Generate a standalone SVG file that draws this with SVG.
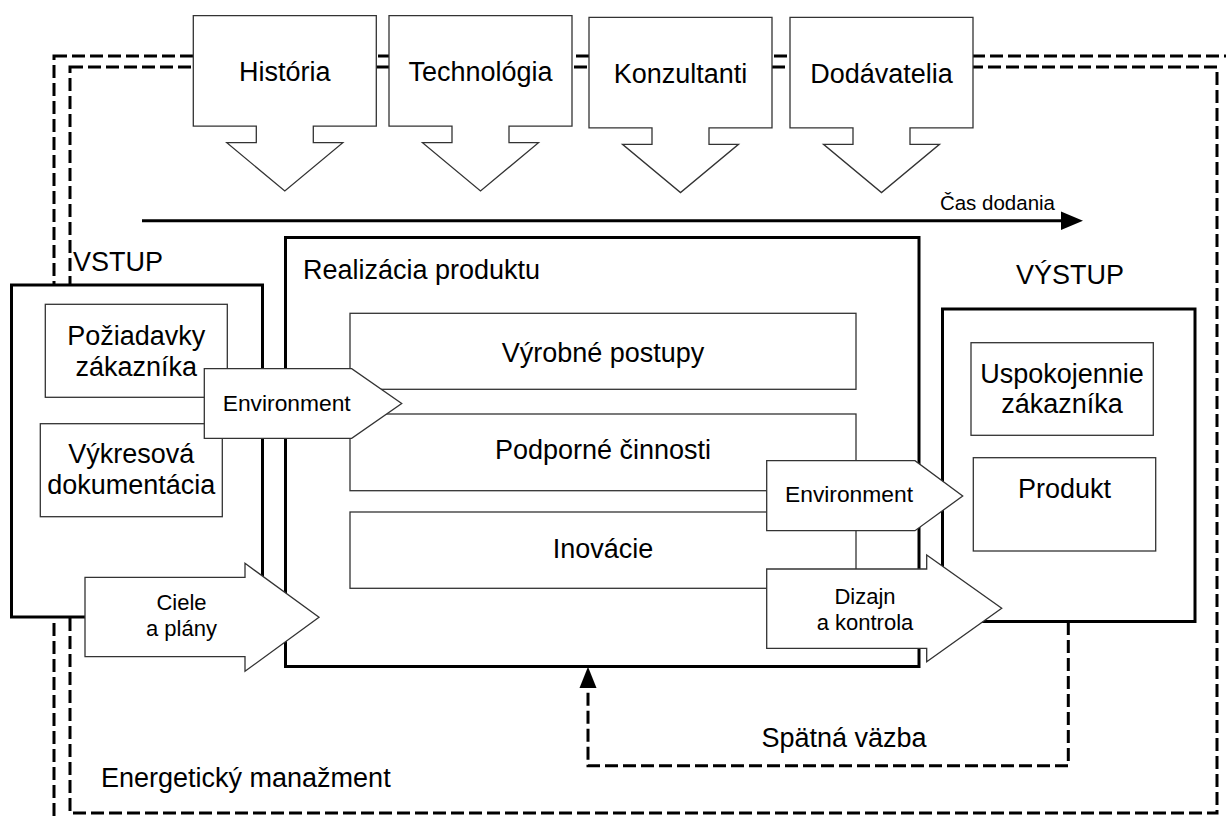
<svg xmlns="http://www.w3.org/2000/svg" width="1226" height="818" viewBox="0 0 1226 818">
<style>
  text { font-family: "Liberation Sans", Arial, sans-serif; fill: #000; }
  .lbl { font-size: 27px; text-anchor: middle; }
  .alb { font-size: 22px; text-anchor: middle; }
  .env { font-size: 22.8px; text-anchor: middle; }
  .thin { fill: #fff; stroke: #333; stroke-width: 1.3; }
  .thick { fill: #fff; stroke: #000; stroke-width: 3; }
  .dash { fill: none; stroke: #000; stroke-width: 3; stroke-dasharray: 13 5; }
</style>
<defs>
  <path id="downArrow" d="M0,0 H183 V110.5 H120 V127 H149.5 L91.5,175.3 L33.5,127 H63 V110.5 H0 Z"/>
</defs>
<rect width="1226" height="818" fill="#fff"/>

<g id="energeticky-manazment">
  <rect class="dash" x="54" y="56" width="1200" height="800"/>
  <rect class="dash" x="70" y="67" width="1147" height="746"/>
  <text x="101" y="787" style="font-size:27px">Energetický manažment</text>
</g>

<g id="connectors">
  <g id="cas-dodania">
    <line x1="142" y1="220.7" x2="1062" y2="220.7" stroke="#000" stroke-width="3"/>
    <polygon points="1061,211.5 1083,220.7 1061,230" fill="#000"/>
    <text x="1055" y="210" style="font-size:20.5px;text-anchor:end">Čas dodania</text>
  </g>
  <g id="spatna-vazba">
    <path class="dash" d="M1068.3,622 V765.7 H588 V688"/>
    <polygon points="579.5,688 588,666.7 596.5,688" fill="#000"/>
    <text x="844" y="747" class="lbl">Spätná väzba</text>
  </g>
</g>

<g id="historia">
  <use href="#downArrow" class="thin" transform="translate(193.3,15.7)"/>
  <text class="lbl" x="284.8" y="81.2">História</text>
</g>
<g id="technologia">
  <use href="#downArrow" class="thin" transform="translate(389,15.7)"/>
  <text class="lbl" x="480.5" y="81.2">Technológia</text>
</g>
<g id="konzultanti">
  <use href="#downArrow" class="thin" transform="translate(589,17.3)"/>
  <text class="lbl" x="680.5" y="82.8">Konzultanti</text>
</g>
<g id="dodavatelia">
  <use href="#downArrow" class="thin" transform="translate(790,17.3)"/>
  <text class="lbl" x="881.5" y="82.8">Dodávatelia</text>
</g>

<g id="vstup">
  <text x="73" y="271" style="font-size:27px">VSTUP</text>
  <rect class="thick" x="11.5" y="285" width="251" height="332"/>
  <g id="poziadavky">
    <rect class="thin" x="45.3" y="304.3" width="182" height="93"/>
    <text class="lbl" x="136.3" y="345">Požiadavky</text>
    <text class="lbl" x="136.3" y="375.5">zákazníka</text>
  </g>
  <g id="vykresova">
    <rect class="thin" x="40.3" y="423.7" width="182" height="93"/>
    <text class="lbl" x="131.3" y="463.3">Výkresová</text>
    <text class="lbl" x="131.3" y="494">dokumentácia</text>
  </g>
</g>

<g id="realizacia">
  <rect class="thick" x="285.5" y="237.5" width="633.5" height="429"/>
  <text x="303" y="278.5" style="font-size:27px">Realizácia produktu</text>
  <g id="vyrobne">
    <rect class="thin" x="350" y="313.3" width="506" height="76"/>
    <text class="lbl" x="603" y="361.7">Výrobné postupy</text>
  </g>
  <g id="podporne">
    <rect class="thin" x="350" y="414" width="506" height="76.7"/>
    <text class="lbl" x="603" y="458.5">Podporné činnosti</text>
  </g>
  <g id="inovacie">
    <rect class="thin" x="350" y="512" width="506" height="76.3"/>
    <text class="lbl" x="603" y="558">Inovácie</text>
  </g>
</g>

<g id="vystup">
  <text x="1070" y="284.3" class="lbl">VÝSTUP</text>
  <rect class="thick" x="942.5" y="309" width="252.5" height="312.5"/>
  <g id="uspokojennie">
    <rect class="thin" x="971" y="342.7" width="182.3" height="92.6"/>
    <text class="lbl" x="1062" y="382.7">Uspokojennie</text>
    <text class="lbl" x="1062" y="413.3">zákazníka</text>
  </g>
  <g id="produkt">
    <rect class="thin" x="973.3" y="457.7" width="182.4" height="93.3"/>
    <text class="lbl" x="1064.5" y="498.3">Produkt</text>
  </g>
</g>

<g id="environment-vstup">
  <path class="thin" d="M204.3,368.7 H351.7 L401.7,403.5 L351.7,438.3 H204.3 Z"/>
  <text class="env" x="286.7" y="410.5">Environment</text>
</g>
<g id="ciele">
  <path class="thin" d="M85,577.3 H245 V563.3 L319,617.3 L245,671.3 V656.7 H85 Z"/>
  <text class="alb" x="181.5" y="610">Ciele</text>
  <text class="alb" x="181.5" y="635.5">a plány</text>
</g>
<g id="environment-vystup">
  <path class="thin" d="M766.7,460.7 H915 L962.7,496 L915,530.7 H766.7 Z"/>
  <text class="env" x="849" y="502">Environment</text>
</g>
<g id="dizajn">
  <path class="thin" d="M766.7,569 H926.7 V555 L1001.7,608.3 L926.7,661.7 V648.3 H766.7 Z"/>
  <text class="alb" x="865" y="604.3">Dizajn</text>
  <text class="alb" x="865" y="630">a kontrola</text>
</g>
</svg>
